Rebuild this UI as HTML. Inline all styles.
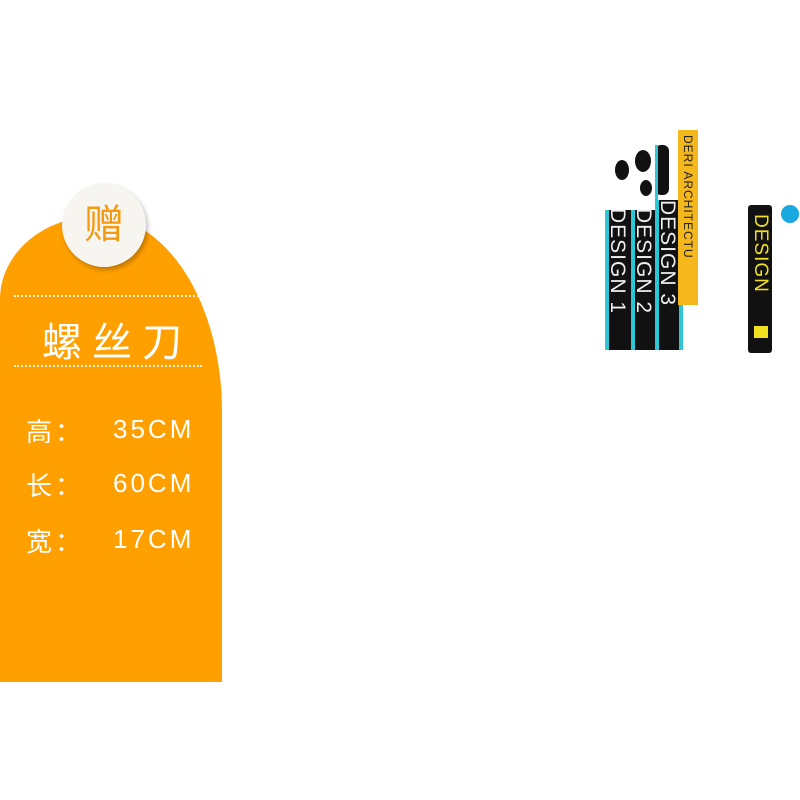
<!DOCTYPE html>
<html><head><meta charset="utf-8"><style>
body{margin:0;width:800px;height:800px;background:#fff;position:relative;overflow:hidden;font-family:"Liberation Sans","Noto Sans CJK SC",sans-serif}
.shape{position:absolute;left:0;top:216px;width:222px;height:466px;background:#ff9f00;border-top-left-radius:100px 85px;border-top-right-radius:127px 200px}
.circ{position:absolute;left:62px;top:183px;width:84px;height:84px;border-radius:50%;background:#f7f5f0;box-shadow:2px 3px 4px rgba(0,0,0,.25);color:#f49a10;font-size:40px;text-align:center;line-height:84px}
.dl{position:absolute;left:14px;width:188px;border-top:2px dotted #fff3dc}
.t{position:absolute;color:#fff;font-size:26px;letter-spacing:3px}
.book{position:absolute;background:#111;border-left:4px solid #2cc6d6;border-right:4px solid #2cc6d6}
.vt{position:absolute;writing-mode:vertical-rl;color:#eee;font-size:21px;letter-spacing:1px}
.blob{position:absolute;background:#111;border-radius:50%}
</style></head><body>
<div class="shape"></div>
<div class="circ">赠</div>
<div class="dl" style="top:295px"></div>
<div class="dl" style="top:365px"></div>
<div class="t" style="left:42px;top:310px;font-size:40px;letter-spacing:10px">螺丝刀</div>
<div class="t" style="left:26px;top:412px">高：</div><div class="t" style="left:113px;top:414px">35CM</div>
<div class="t" style="left:26px;top:466px">长：</div><div class="t" style="left:113px;top:468px">60CM</div>
<div class="t" style="left:26px;top:522px">宽：</div><div class="t" style="left:113px;top:524px">17CM</div>

<div class="book" style="left:605px;top:210px;width:22px;height:140px"></div>
<div class="book" style="left:631px;top:210px;width:20px;height:140px"></div>
<div class="book" style="left:655px;top:200px;width:20px;height:150px"></div>
<div class="vt" style="left:605px;top:208px">DESIGN 1</div>
<div class="vt" style="left:631px;top:208px">DESIGN 2</div>
<div class="vt" style="left:655px;top:200px">DESIGN 3</div>
<div style="position:absolute;left:678px;top:130px;width:20px;height:175px;background:#f5b81c"></div>
<div class="vt" style="left:681px;top:135px;color:#222;font-size:12px">DERI ARCHITECTU</div>
<div class="blob" style="left:615px;top:160px;width:14px;height:20px"></div>
<div class="blob" style="left:635px;top:150px;width:16px;height:22px"></div>
<div class="blob" style="left:655px;top:145px;width:14px;height:50px;border-radius:6px"></div>
<div class="blob" style="left:640px;top:180px;width:12px;height:16px"></div>
<div style="position:absolute;left:655px;top:145px;width:3px;height:60px;background:#2cc6d6"></div>
<div style="position:absolute;left:748px;top:205px;width:24px;height:148px;background:#111;border-radius:3px"></div>
<div class="vt" style="left:749px;top:214px;color:#f0e020;font-size:19px;line-height:22px">DESIGN</div>
<div style="position:absolute;left:754px;top:326px;width:14px;height:12px;background:#f0e020"></div>
<div style="position:absolute;left:781px;top:205px;width:18px;height:18px;border-radius:50%;background:#1aa8e0"></div>
</body></html>
